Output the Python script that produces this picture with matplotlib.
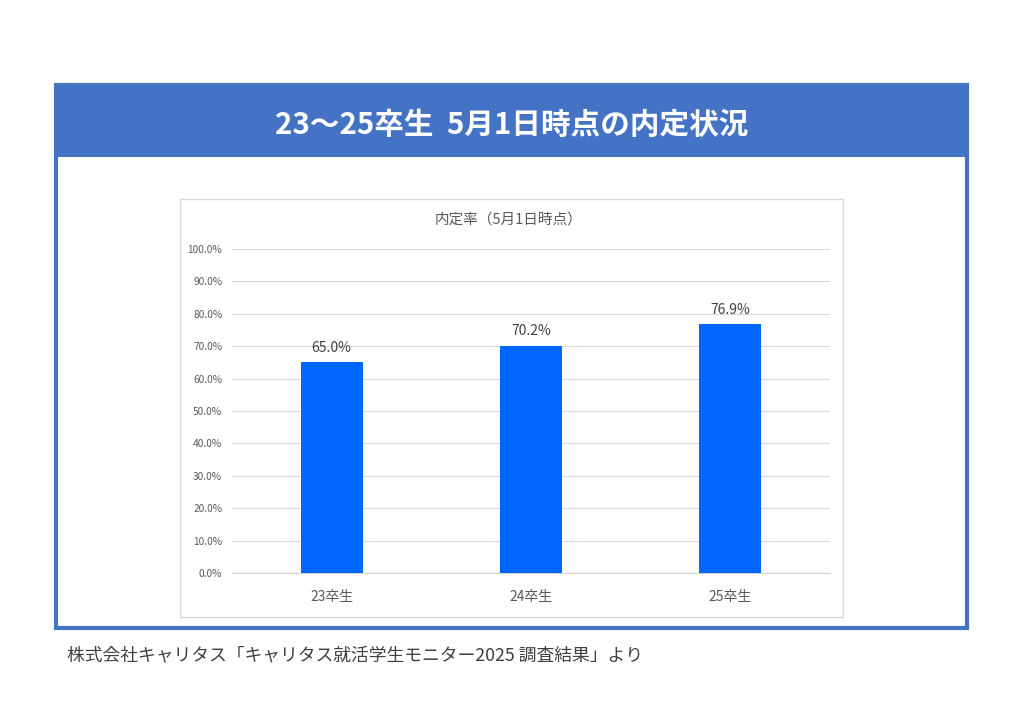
import matplotlib.pyplot as plt
from matplotlib.patches import Rectangle
from matplotlib.ticker import FuncFormatter

plt.rcParams["font.family"] = ["Noto Sans CJK JP", "DejaVu Sans"]

# data
categories = ["23卒生", "24卒生", "25卒生"]
rates = [65.0, 70.2, 76.9]
yticks = [0, 10, 20, 30, 40, 50, 60, 70, 80, 90, 100]

header = "23～25卒生  5月1日時点の内定状況"
chart_title = "内定率（5月1日時点）"
source = "株式会社キャリタス「キャリタス就活学生モニター2025 調査結果」より"

W, H = 1024, 724
fig = plt.figure(figsize=(W / 100, H / 100), dpi=100)
fig.patch.set_facecolor("white")


def box(x0, y0, x1, y1, **kw):
    # pixel coords (top-left origin) -> figure fraction
    return Rectangle((x0 / W, 1 - y1 / H), (x1 - x0) / W, (y1 - y0) / H,
                     transform=fig.transFigure, zorder=-5, **kw)


blue = "#4472C4"
fig.patches.append(box(56, 85, 967, 628, facecolor="white", edgecolor=blue, lw=3))
fig.patches.append(box(56, 85, 967, 157, facecolor=blue, edgecolor=blue, lw=0))
fig.patches.append(box(180, 199, 843, 617, facecolor="white", edgecolor="#d9d9d9", lw=1))

fig.text(512 / W, 1 - 125 / H, header, color="white", fontsize=21.3,
         fontweight="bold", ha="center", va="center")
fig.text(508 / W, 1 - 220 / H, chart_title, color="#595959", fontsize=10.5,
         ha="center", va="center")
fig.text(67 / W, 1 - 655 / H, source, color="#404040", fontsize=12.8,
         ha="left", va="center")

ax = fig.add_axes([232 / W, 1 - 573 / H, 598 / W, 324 / H])
ax.set_zorder(5)
x = range(len(categories))
bars = ax.bar(x, rates, width=0.31, color="#0066FF", zorder=3)
for b, v in zip(bars, rates):
    ax.text(b.get_x() + b.get_width() / 2, v + 2.2, f"{v:.1f}%",
            ha="center", va="bottom", fontsize=10, color="#404040")

ax.set_xlim(-0.5, len(categories) - 0.5)
ax.set_ylim(0, 100)
ax.set_yticks(yticks)
ax.yaxis.set_major_formatter(FuncFormatter(lambda v, p: f"{v:.1f}%"))
ax.set_xticks(list(x))
ax.set_xticklabels(categories)
ax.tick_params(axis="y", length=0, labelsize=7.3, labelcolor="#595959", pad=7)
ax.tick_params(axis="x", length=0, labelsize=10, labelcolor="#595959", pad=12)
ax.grid(axis="y", color="#d9d9d9", lw=0.8, zorder=0)
for s in ["top", "right", "left"]:
    ax.spines[s].set_visible(False)
ax.spines["bottom"].set_color("#d0d0d0")
ax.set_facecolor("none")

fig.savefig("out.png", dpi=100)
